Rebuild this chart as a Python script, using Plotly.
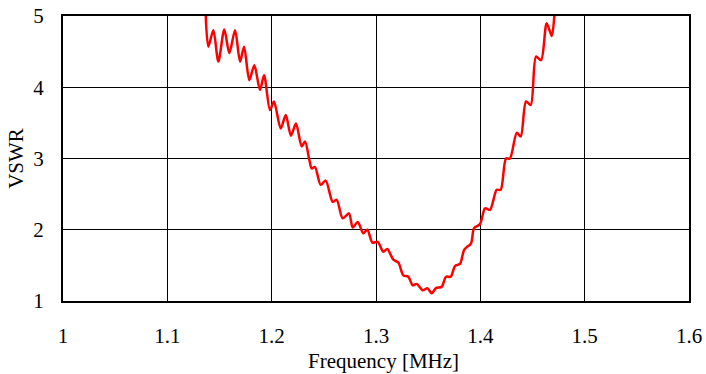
import plotly.graph_objects as go

freq_mhz = [1.1368, 1.1393, 1.1441, 1.1489, 1.1546, 1.1594, 1.1649, 1.1697, 1.1735, 1.1786,
            1.1834, 1.1888, 1.1927, 1.1984, 1.2022, 1.2087, 1.2135, 1.2185, 1.2233, 1.2288,
            1.2320, 1.2361, 1.2384, 1.2415, 1.2470, 1.2518, 1.2585, 1.2623, 1.2681, 1.2741,
            1.2777, 1.2825, 1.2878, 1.2917, 1.2965, 1.3016, 1.3070, 1.3108, 1.3166, 1.3214,
            1.3262, 1.3310, 1.3352, 1.3390, 1.3448, 1.3492, 1.3534, 1.3575, 1.3630, 1.3671,
            1.3716, 1.3757, 1.3805, 1.3846, 1.3911, 1.3939, 1.3997, 1.4045, 1.4093, 1.4157,
            1.4195, 1.4246, 1.4284, 1.4349, 1.4387, 1.4438, 1.4483, 1.4534, 1.4582, 1.4636,
            1.4684, 1.4709]
vswr = [5.00, 4.57, 4.80, 4.36, 4.81, 4.48, 4.80, 4.36, 4.57, 4.10,
        4.31, 3.96, 4.17, 3.68, 3.80, 3.42, 3.61, 3.32, 3.49, 3.17,
        3.24, 2.98, 2.86, 2.88, 2.63, 2.69, 2.39, 2.42, 2.16, 2.23,
        2.03, 2.11, 1.95, 2.00, 1.82, 1.83, 1.69, 1.73, 1.58, 1.54,
        1.36, 1.34, 1.22, 1.24, 1.15, 1.18, 1.11, 1.18, 1.20, 1.34,
        1.34, 1.49, 1.52, 1.72, 1.81, 2.02, 2.08, 2.30, 2.28, 2.56,
        2.56, 3.00, 3.00, 3.36, 3.31, 3.80, 3.75, 4.43, 4.38, 4.90,
        4.72, 5.00]

x_ticks = [1, 1.1, 1.2, 1.3, 1.4, 1.5, 1.6]
x_tick_text = ["1", "1.1", "1.2", "1.3", "1.4", "1.5", "1.6"]
y_ticks = [1, 2, 3, 4, 5]

fig = go.Figure()
fig.add_trace(go.Scatter(x=freq_mhz, y=vswr, mode="lines",
                         line=dict(color="#FF0000", width=2.5, shape="spline", smoothing=0.8),
                         showlegend=False))

font = dict(family="'Times New Roman', 'Liberation Serif', serif", size=21, color="black")
fig.update_layout(
    width=706, height=374,
    margin=dict(l=63, r=17, t=16, b=73, autoexpand=False),
    paper_bgcolor="white", plot_bgcolor="white",
    font=font,
    xaxis=dict(range=[1, 1.6], tickvals=x_ticks, ticktext=x_tick_text, automargin=False,
               showgrid=True, gridcolor="black", gridwidth=1,
               showline=True, linecolor="black", linewidth=2, mirror=True,
               ticks="", ticklabelstandoff=15, zeroline=False, tickfont=font),
    yaxis=dict(range=[1, 5], tickvals=y_ticks, automargin=False,
               showgrid=True, gridcolor="black", gridwidth=1,
               showline=True, linecolor="black", linewidth=2, mirror=True,
               ticks="", ticklabelstandoff=13, zeroline=False, tickfont=font,
               title=dict(text="VSWR", standoff=4, font=font)),
    annotations=[dict(text="Frequency [MHz]", xref="paper", yref="paper",
                      x=0.5, y=0, xanchor="center", yanchor="top",
                      xshift=7, yshift=-46, showarrow=False, font=font)],
)
fig.write_html("out.html")
